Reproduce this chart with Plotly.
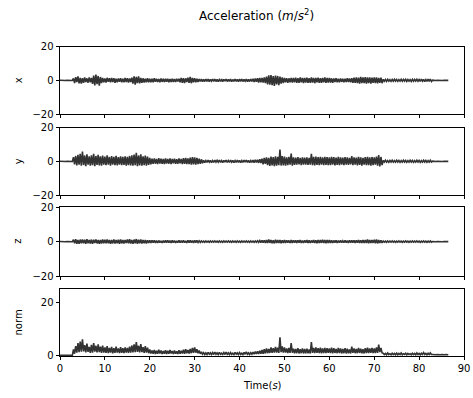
import plotly.graph_objects as go

# Sample step of the recording (seconds)
SAMPLE_STEP = 0.25

acc_x = [
    0.05, -0.05, 0.05, -0.05, 0.05, -0.05, 0.05, -0.05, 0.05, -0.05, 0.05, -0.05, 1.2, -1.6, 1.9, -1.1, 2.3, -1.8, 1.4, -1.9,
    1.3, -1.5, 1.7, -1.0, 1.2, -1.4, 1.8, -1.2, 1.5, -2.1, 2.8, -3.0, 3.4, -2.2, 2.6, -3.2, 2.0, -1.6, 1.5, -1.2,
    1.1, -1.3, 1.5, -0.9, 1.2, -1.1, 1.4, -1.0, 1.3, -1.4, 0.9, -1.2, 1.1, -0.8, 1.3, -1.2, 1.0, -1.1, 1.4, -1.0,
    1.2, -1.3, 1.1, -1.0, 1.6, -1.9, 2.3, -2.5, 2.0, -1.7, 2.4, -1.8, 1.5, -1.4, 1.2, -1.3, 1.0, -1.2, 1.3, -1.1,
    1.0, -1.2, 0.9, -1.1, 1.2, -0.8, 1.0, -1.0, 0.8, -1.1, 1.1, -0.9, 0.9, -1.0, 1.0, -0.8, 0.9, -1.1, 0.8, -0.9,
    1.0, -0.9, 0.8, -1.0, 0.9, -0.7, 1.0, -1.1, 1.5, -1.4, 1.3, -1.6, 1.2, -1.0, 1.6, -1.5, 2.0, -1.7, 1.4, -1.2,
    1.3, -1.1, 1.0, -0.9, 0.8, -0.7, 0.7, -0.8, 0.6, -0.7, 0.8, -0.6, 0.7, -0.8, 0.6, -0.5, 0.7, -0.6, 0.8, -0.7,
    0.6, -0.7, 0.5, -0.6, 0.7, -0.8, 0.6, -0.5, 0.8, -0.7, 0.6, -0.6, 0.7, -0.8, 0.5, -0.6, 0.7, -0.6, 0.6, -0.7,
    0.7, -0.6, 0.8, -0.7, 0.6, -0.5, 0.7, -0.8, 0.6, -0.7, 0.8, -0.6, 0.9, -1.0, 1.1, -0.9, 1.2, -1.3, 1.4, -1.1,
    1.5, -1.3, 1.8, -1.6, 2.2, -2.4, 2.9, -2.6, 3.2, -2.8, 2.5, -3.3, 2.8, -2.4, 2.6, -2.9, 2.2, -2.0, 1.8, -1.6,
    1.4, -1.2, 1.3, -1.5, 1.2, -1.1, 1.5, -1.3, 1.4, -1.2, 1.6, -1.4, 1.3, -1.5, 1.7, -1.2, 1.4, -1.6, 1.5, -1.3,
    1.6, -1.4, 1.3, -1.5, 1.8, -1.3, 1.5, -1.7, 1.4, -1.2, 1.6, -1.5, 1.3, -1.4, 1.5, -1.2, 1.7, -1.4, 1.4, -1.3,
    1.5, -1.3, 1.2, -1.4, 1.1, -1.0, 1.3, -1.1, 1.0, -1.2, 1.1, -0.9, 1.0, -1.1, 0.9, -1.0, 1.2, -1.0, 1.1, -1.2,
    1.3, -1.4, 1.6, -1.5, 1.8, -1.7, 1.6, -1.9, 2.0, -1.6, 1.8, -1.7, 1.9, -2.0, 1.7, -1.6, 1.8, -1.9, 1.6, -1.5,
    1.8, -1.6, 1.7, -1.8, 1.5, -1.4, 1.6, -1.7, 0.6, -0.5, 0.5, -0.6, 0.6, -0.5, 0.4, -0.6, 0.5, -0.5, 0.6, -0.4,
    0.5, -0.6, 0.4, -0.5, 0.6, -0.5, 0.5, -0.4, 0.6, -0.6, 0.5, -0.5, 0.4, -0.6, 0.6, -0.5, 0.5, -0.4, 0.6, -0.5,
    0.5, -0.6, 0.7, -0.5, 0.6, -0.7, 0.5, -0.6, 0.7, -0.6, 0.8, -0.7, 0.1, -0.1, 0.05, -0.05, 0.05, -0.05, 0.05, -0.05,
    0.05, -0.05, 0.05, -0.05, 0.05, -0.05, 0.0,
]

acc_y = [
    0.05, -0.05, 0.05, -0.05, 0.05, -0.05, 0.05, -0.05, 0.05, -0.05, 0.05, -0.05, 2.5, -1.8, 3.2, -2.4, 3.8, -2.0, 4.4, -2.6,
    5.8, -2.2, 3.5, -2.8, 4.2, -2.0, 3.0, -2.5, 3.6, -2.3, 4.5, -2.9, 3.2, -2.1, 3.9, -2.4, 3.0, -2.6, 3.4, -2.0,
    2.8, -2.3, 3.5, -2.0, 2.6, -2.5, 3.1, -1.9, 2.7, -2.2, 3.3, -2.4, 2.5, -2.0, 3.0, -2.3, 2.6, -2.1, 2.9, -2.5,
    2.7, -2.2, 3.2, -2.4, 3.6, -2.6, 4.0, -2.3, 5.0, -2.8, 3.5, -2.4, 4.2, -2.5, 3.0, -2.2, 3.4, -2.6, 2.8, -2.1,
    2.0, -1.8, 1.6, -1.5, 1.8, -1.4, 1.5, -1.7, 1.9, -1.3, 1.6, -1.5, 1.4, -1.6, 1.7, -1.3, 1.5, -1.4, 1.8, -1.6,
    1.4, -1.2, 1.6, -1.5, 1.3, -1.4, 1.7, -1.2, 1.5, -1.6, 1.9, -1.5, 2.1, -1.7, 1.8, -1.6, 2.2, -1.9, 2.5, -1.8,
    2.3, -1.9, 2.0, -1.7, 1.6, -1.5, 1.2, -1.1, 0.6, -0.7, 0.5, -0.6, 0.7, -0.5, 0.6, -0.7, 0.5, -0.6, 0.7, -0.5,
    0.6, -0.5, 0.7, -0.6, 0.5, -0.7, 0.6, -0.5, 0.8, -0.6, 0.5, -0.6, 0.7, -0.5, 0.6, -0.7, 0.5, -0.6, 0.7, -0.6,
    0.6, -0.7, 0.5, -0.6, 0.7, -0.5, 0.8, -0.6, 0.6, -0.7, 0.5, -0.6, 0.7, -0.8, 0.9, -0.7, 1.0, -0.9, 1.2, -1.0,
    1.6, -1.8, 2.0, -1.5, 2.4, -2.2, 2.1, -2.7, 2.8, -2.4, 2.5, -2.9, 3.0, -2.6, 2.7, -2.3, 7.0, -2.5, 3.2, -2.4,
    2.8, -2.6, 2.4, -2.2, 2.6, -2.0, 4.6, -2.5, 2.3, -2.1, 2.2, -2.0, 2.5, -1.8, 2.1, -2.2, 2.4, -1.9, 2.2, -2.0,
    2.3, -2.1, 2.0, -1.9, 4.5, -2.2, 2.6, -2.4, 2.8, -2.1, 2.5, -2.3, 2.7, -2.0, 2.4, -2.2, 2.6, -2.1, 2.5, -2.3,
    2.4, -2.2, 2.7, -2.0, 2.5, -2.4, 2.2, -2.1, 2.6, -2.3, 2.4, -2.0, 2.2, -2.2, 2.5, -1.9, 2.3, -2.1, 2.0, -1.8,
    3.1, -2.2, 2.4, -2.0, 2.2, -2.4, 2.6, -2.1, 2.3, -2.5, 2.1, -1.9, 2.5, -2.3, 2.7, -2.2, 2.4, -2.6, 2.6, -2.2,
    2.4, -2.0, 2.8, -2.5, 3.8, -3.0, 2.6, -2.2, 0.5, -0.4, 0.6, -0.5, 0.4, -0.6, 0.5, -0.4, 0.6, -0.5, 0.4, -0.5,
    0.6, -0.4, 0.5, -0.6, 0.4, -0.5, 0.6, -0.4, 0.5, -0.6, 0.4, -0.5, 0.6, -0.4, 0.5, -0.6, 0.4, -0.5, 0.6, -0.4,
    0.5, -0.6, 0.4, -0.5, 0.6, -0.4, 0.5, -0.6, 0.4, -0.5, 0.6, -0.4, 0.1, -0.1, 0.05, -0.05, 0.05, -0.05, 0.05, -0.05,
    0.05, -0.05, 0.05, -0.05, 0.05, -0.05, 0.0,
]

acc_z = [
    0.05, -0.05, 0.05, -0.05, 0.05, -0.05, 0.05, -0.05, 0.05, -0.05, 0.05, -0.05, 1.1, -0.9, 1.4, -1.2, 1.0, -1.3, 1.2, -0.9,
    1.3, -1.0, 1.1, -1.2, 1.4, -0.9, 1.0, -1.1, 1.2, -1.3, 1.1, -0.8, 1.3, -1.0, 0.9, -1.2, 1.0, -1.1, 1.2, -0.9,
    1.1, -1.0, 1.3, -0.9, 1.0, -1.2, 0.9, -1.0, 1.2, -1.1, 1.0, -0.9, 1.1, -1.2, 1.3, -1.0, 0.9, -1.1, 1.0, -0.8,
    1.2, -1.0, 1.4, -1.1, 1.0, -1.3, 1.2, -0.9, 1.5, -1.2, 1.1, -1.0, 1.3, -1.1, 1.0, -0.9, 0.9, -1.0, 0.8, -0.7,
    0.8, -0.7, 0.7, -0.6, 0.8, -0.7, 0.6, -0.8, 0.7, -0.6, 0.5, -0.7, 0.6, -0.5, 0.7, -0.6, 0.8, -0.6, 0.6, -0.7,
    0.7, -0.5, 0.6, -0.7, 0.5, -0.6, 0.7, -0.6, 0.6, -0.5, 0.7, -0.6, 0.5, -0.7, 0.8, -0.6, 0.7, -0.5, 0.6, -0.7,
    0.8, -0.6, 0.7, -0.5, 0.5, -0.4, 0.4, -0.3, 0.3, -0.4, 0.4, -0.3, 0.3, -0.4, 0.4, -0.3, 0.3, -0.3, 0.4, -0.3,
    0.3, -0.4, 0.4, -0.3, 0.3, -0.4, 0.4, -0.3, 0.3, -0.3, 0.4, -0.3, 0.3, -0.4, 0.4, -0.3, 0.3, -0.4, 0.4, -0.3,
    0.3, -0.4, 0.4, -0.3, 0.3, -0.3, 0.4, -0.3, 0.3, -0.4, 0.4, -0.3, 0.3, -0.4, 0.4, -0.3, 0.5, -0.4, 0.6, -0.5,
    0.7, -0.6, 0.8, -0.7, 0.9, -0.8, 1.2, -0.7, 1.0, -0.9, 0.8, -1.0, 1.1, -0.8, 0.9, -0.7, 1.0, -0.9, 0.8, -0.7,
    0.9, -0.7, 0.8, -0.6, 0.7, -0.8, 0.9, -0.7, 0.8, -0.6, 0.7, -0.7, 0.8, -0.6, 0.9, -0.7, 0.6, -0.8, 0.8, -0.6,
    0.9, -0.7, 0.8, -0.8, 0.7, -0.6, 0.9, -0.7, 0.8, -0.9, 1.0, -0.8, 0.9, -0.7, 1.1, -0.8, 0.9, -0.9, 1.0, -0.7,
    0.9, -0.7, 0.8, -0.8, 0.7, -0.6, 0.8, -0.7, 0.6, -0.5, 0.7, -0.6, 0.5, -0.6, 0.7, -0.5, 0.6, -0.7, 0.8, -0.6,
    0.7, -0.6, 0.8, -0.7, 0.7, -0.6, 0.9, -0.7, 0.8, -0.8, 1.0, -0.7, 0.9, -0.8, 1.2, -0.9, 1.0, -0.8, 0.9, -0.7,
    1.1, -0.9, 1.3, -1.0, 0.9, -0.8, 0.8, -0.7, 0.4, -0.3, 0.3, -0.4, 0.4, -0.3, 0.3, -0.3, 0.4, -0.3, 0.3, -0.4,
    0.3, -0.3, 0.4, -0.3, 0.3, -0.4, 0.3, -0.3, 0.4, -0.3, 0.3, -0.4, 0.3, -0.3, 0.4, -0.3, 0.3, -0.3, 0.4, -0.3,
    0.3, -0.4, 0.3, -0.3, 0.4, -0.3, 0.3, -0.4, 0.3, -0.3, 0.4, -0.3, 0.1, -0.1, 0.05, -0.05, 0.05, -0.05, 0.05, -0.05,
    0.05, -0.05, 0.05, -0.05, 0.05, -0.05, 0.0,
]

acc_norm = [
    0.05, 0.0, 0.05, 0.0, 0.05, 0.0, 0.05, 0.0, 0.05, 0.0, 0.05, 0.0, 2.2, 0.6, 3.5, 1.0, 4.6, 1.2, 5.2, 1.4,
    6.0, 1.5, 3.8, 1.1, 4.4, 1.3, 3.2, 0.9, 3.9, 1.0, 4.6, 1.4, 3.6, 1.1, 4.1, 1.2, 3.3, 0.9, 3.7, 1.0,
    3.0, 0.9, 3.5, 0.8, 2.8, 1.0, 3.2, 0.7, 2.7, 0.9, 3.3, 1.0, 2.6, 0.8, 3.1, 0.9, 2.7, 0.8, 3.0, 1.0,
    2.8, 0.9, 3.3, 1.0, 3.7, 1.1, 4.1, 1.2, 5.0, 1.3, 3.6, 1.1, 4.2, 1.2, 3.1, 0.9, 3.5, 1.0, 2.9, 0.8,
    2.2, 0.7, 1.8, 0.6, 2.0, 0.5, 1.7, 0.6, 2.1, 0.7, 1.8, 0.5, 1.6, 0.6, 1.9, 0.5, 1.7, 0.6, 2.0, 0.7,
    1.6, 0.5, 1.8, 0.6, 1.5, 0.5, 1.9, 0.6, 1.7, 0.7, 2.1, 0.6, 2.3, 0.8, 2.0, 0.7, 2.4, 0.8, 2.8, 0.9,
    3.0, 1.0, 2.3, 0.8, 1.8, 0.6, 1.3, 0.4, 1.0, 0.3, 0.9, 0.3, 1.1, 0.4, 0.9, 0.3, 1.0, 0.3, 1.2, 0.4,
    0.9, 0.3, 1.1, 0.4, 0.8, 0.3, 1.0, 0.3, 1.2, 0.4, 0.9, 0.3, 1.0, 0.3, 0.8, 0.3, 1.1, 0.4, 0.9, 0.3,
    1.0, 0.3, 0.8, 0.3, 1.1, 0.4, 1.3, 0.4, 0.9, 0.3, 1.0, 0.4, 1.2, 0.4, 1.4, 0.5, 1.5, 0.5, 1.7, 0.6,
    2.0, 0.6, 2.3, 0.7, 2.6, 0.8, 2.4, 0.9, 3.0, 0.9, 2.7, 1.0, 3.2, 1.0, 2.9, 0.9, 6.8, 1.2, 3.4, 1.0,
    3.0, 1.0, 2.6, 0.8, 2.8, 0.9, 4.6, 1.0, 2.5, 0.8, 2.4, 0.8, 2.7, 0.7, 2.3, 0.8, 2.6, 0.7, 2.4, 0.8,
    2.5, 0.8, 2.2, 0.7, 5.0, 0.9, 2.8, 0.8, 3.0, 0.9, 2.7, 0.8, 2.9, 0.7, 2.6, 0.8, 2.8, 0.8, 2.7, 0.9,
    2.6, 0.8, 2.9, 0.7, 2.7, 0.9, 2.4, 0.8, 2.8, 0.8, 2.6, 0.7, 2.4, 0.8, 2.7, 0.7, 2.5, 0.8, 2.2, 0.7,
    3.3, 0.9, 2.6, 0.8, 2.4, 0.8, 2.8, 0.9, 2.5, 0.8, 2.3, 0.7, 2.7, 0.8, 2.9, 0.8, 2.6, 0.9, 2.8, 0.8,
    2.6, 0.8, 3.0, 0.9, 4.0, 1.2, 2.8, 0.9, 0.8, 0.3, 0.7, 0.2, 0.9, 0.3, 0.6, 0.2, 0.8, 0.3, 0.7, 0.2,
    0.8, 0.2, 0.7, 0.3, 0.9, 0.2, 0.6, 0.3, 0.8, 0.2, 0.7, 0.3, 0.6, 0.2, 0.8, 0.3, 0.7, 0.2, 0.9, 0.3,
    0.7, 0.2, 0.8, 0.3, 1.0, 0.3, 0.7, 0.2, 0.8, 0.3, 0.9, 0.3, 0.3, 0.2, 0.3, 0.2, 0.3, 0.2, 0.3, 0.2,
    0.3, 0.2, 0.3, 0.2, 0.3, 0.2, 0.2,
]

panel_labels = ["x", "y", "z", "norm"]
x_tick_values = [0, 10, 20, 30, 40, 50, 60, 70, 80, 90]
y_tick_values_xyz = [-20, 0, 20]
y_tick_values_norm = [0, 20]
title_text = "Acceleration (<i>m</i>/<i>s</i><sup>2</sup>)"
x_title_text = "Time(<i>s</i>)"

series = [acc_x, acc_y, acc_z, acc_norm]

W, H = 473, 398
ML, MR = 60, 9
FONT = "DejaVu Sans"
LINE = "#333333"

# panel pixel extents (top, bottom)
panels_px = [(46.7, 114.0), (127.7, 195.0), (207.3, 276.0), (289.0, 356.0)]

fig = go.Figure()
for k, vals in enumerate(series):
    suffix = "" if k == 0 else str(k + 1)
    time = [i * SAMPLE_STEP for i in range(len(vals))]
    fig.add_trace(go.Scatter(
        x=time, y=vals, mode="lines",
        line=dict(color=LINE, width=1.6),
        xaxis="x" + suffix, yaxis="y" + suffix,
        showlegend=False, hoverinfo="skip",
    ))

layout = dict(
    width=W, height=H,
    margin=dict(l=ML, r=MR, t=0, b=0, autoexpand=False),
    paper_bgcolor="white", plot_bgcolor="white",
    font=dict(family=FONT, size=10, color="black"),
    showlegend=False,
)

for k in range(4):
    suffix = "" if k == 0 else str(k + 1)
    top, bot = panels_px[k]
    dom = [1 - bot / H, 1 - top / H]
    last = (k == 3)
    xa = dict(
        domain=[0, 1], range=[0, 90], anchor="y" + suffix,
        tickmode="array", tickvals=x_tick_values,
        showticklabels=last, ticks="outside", ticklen=3.5, tickwidth=0.8,
        tickcolor="black", showline=True, linecolor="black", linewidth=0.8,
        mirror=True, showgrid=False, zeroline=False,
        tickfont=dict(family=FONT, size=10, color="black"),
    )
    if k > 0:
        xa["matches"] = "x"
    layout["xaxis" + suffix] = xa
    layout["yaxis" + suffix] = dict(
        domain=dom, anchor="x" + suffix,
        range=[-0.26, 25.0] if last else [-20, 20],
        tickmode="array",
        tickvals=y_tick_values_norm if last else y_tick_values_xyz,
        ticks="outside", ticklen=3.5, tickwidth=0.8, tickcolor="black",
        showline=True, linecolor="black", linewidth=0.8, mirror=True,
        showgrid=False, zeroline=False,
        tickfont=dict(family=FONT, size=10, color="black"),
    )

PW = W - ML - MR
annotations = []
for k, lab in enumerate(panel_labels):
    top, bot = panels_px[k]
    annotations.append(dict(
        text=lab, xref="paper", yref="paper",
        x=(18 - ML) / PW, y=1 - (top + bot) / 2 / H,
        xanchor="center", yanchor="middle", textangle=-90, showarrow=False,
        font=dict(family=FONT, size=10, color="black"),
    ))
annotations.append(dict(
    text=x_title_text, xref="paper", yref="paper",
    x=(262 - ML) / PW, y=1 - 385 / H, xanchor="center", yanchor="middle", showarrow=False,
    font=dict(family=FONT, size=10, color="black"),
))
annotations.append(dict(
    text=title_text, xref="paper", yref="paper",
    x=(256 - ML) / PW, y=1 - 15 / H, xanchor="center", yanchor="middle",
    showarrow=False, font=dict(family=FONT, size=12, color="black"),
))
layout["annotations"] = annotations

fig.update_layout(**layout)
fig.write_html("out.html", post_script="document.body.style.margin='0';",
               config={"displayModeBar": False})
